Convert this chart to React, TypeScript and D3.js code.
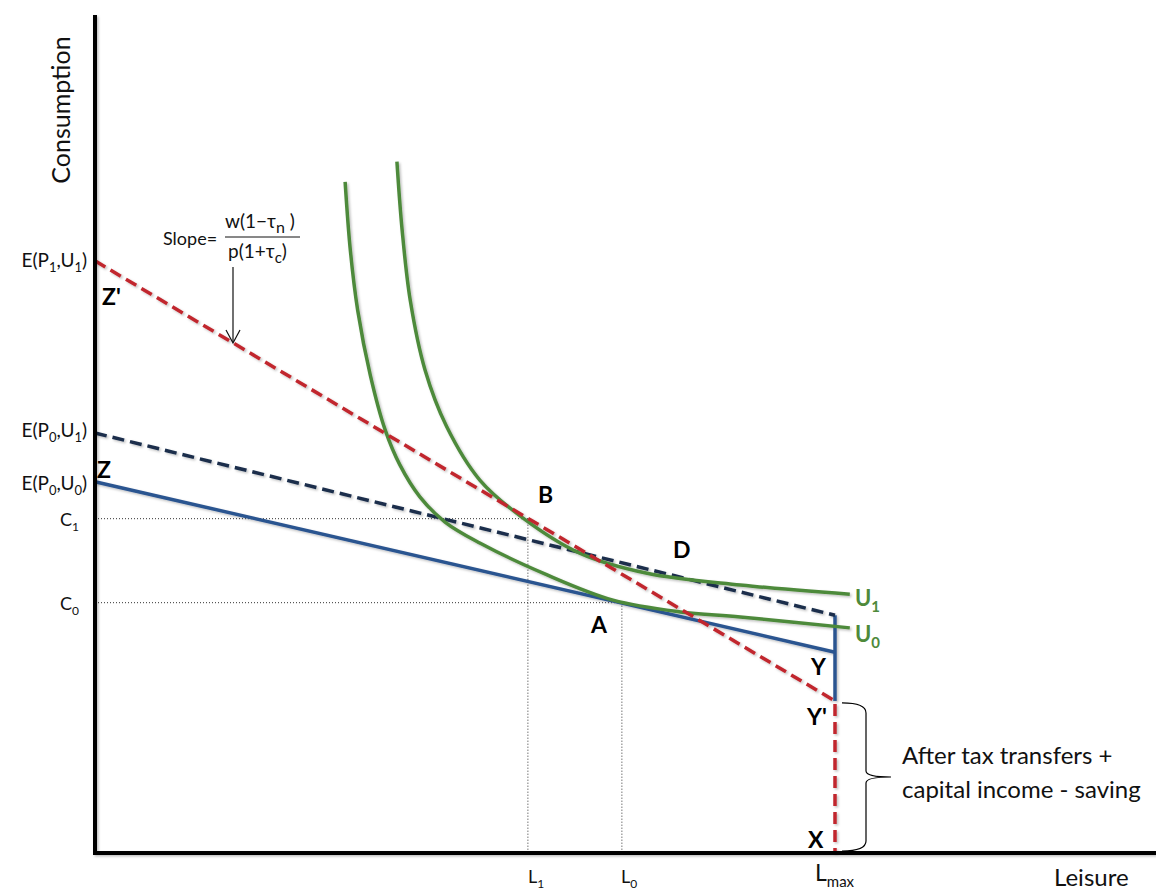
import React from "react";
import * as d3 from "d3";

const W = 1156;
const H = 890;

// Leisure / consumption reference values
const L1 = 58.5;
const L0 = 71.2;
const LMAX = 100;
const C1 = 39.8;
const C0 = 29.8;

// Vertical axis intercepts
const E_P1_U1 = 70.5;
const E_P0_U1 = 50.0;
const E_P0_U0 = 44.2;
const Y_VAL = 23.9;
const YPRIME_VAL = 18.1;
const DASHED_BLUE_END = 28.3;

// Budget lines [leisure, consumption]
const redBudget: [number, number][] = [
  [0, E_P1_U1],
  [LMAX, YPRIME_VAL],
  [LMAX, 0],
];
const blueBudget: [number, number][] = [
  [0, E_P0_U0],
  [LMAX, Y_VAL],
];
const blueDashedBudget: [number, number][] = [
  [0, E_P0_U1],
  [LMAX, DASHED_BLUE_END],
];
const blueVertical: [number, number][] = [
  [LMAX, DASHED_BLUE_END],
  [LMAX, YPRIME_VAL],
];

// Indifference curves
const U1curve: [number, number][] = [
  [40.8, 82.3],
  [41.5, 74.2],
  [42.6, 65.8],
  [44.6, 57.5],
  [47.5, 50.8],
  [52.0, 44.4],
  [57.8, 39.9],
  [65.5, 35.7],
  [74.6, 33.3],
  [87.2, 31.9],
  [102.0, 30.8],
];
const U0curve: [number, number][] = [
  [33.8, 79.9],
  [34.5, 71.8],
  [35.5, 64.6],
  [37.2, 56.9],
  [39.2, 50.4],
  [41.2, 46.2],
  [43.9, 42.4],
  [47.3, 39.4],
  [52.0, 36.9],
  [61.1, 33.1],
  [70.0, 30.1],
  [79.1, 28.7],
  [87.2, 28.1],
  [102.0, 26.8],
];

const FONT = "Lato, 'Open Sans', sans-serif";
const GREEN = "#4E8A3B";
const RED = "#C1272D";
const BLUE = "#2B5490";
const NAVY = "#1A2E4C";

function SubText({
  x,
  y,
  parts,
  size = 16,
  subSize,
  anchor = "start",
  fill = "#111",
  weight = "normal",
}: {
  x: number;
  y: number;
  parts: [string, string][];
  size?: number;
  subSize?: number;
  anchor?: string;
  fill?: string;
  weight?: string;
}) {
  const ss = subSize ?? Math.round(size * 0.7);
  const shift = Math.round(size * 0.28);
  const nodes: React.ReactNode[] = [];
  let down = false;
  parts.forEach(([main, sub], i) => {
    if (main) {
      nodes.push(
        <tspan key={"m" + i} dy={down ? -shift : 0} fontSize={size}>
          {main}
        </tspan>
      );
      down = false;
    }
    if (sub) {
      nodes.push(
        <tspan key={"s" + i} dy={down ? 0 : shift} fontSize={ss}>
          {sub}
        </tspan>
      );
      down = true;
    }
  });
  return (
    <text
      x={x}
      y={y}
      textAnchor={anchor as any}
      fill={fill}
      fontWeight={weight}
      fontFamily={FONT}
    >
      {nodes}
    </text>
  );
}

export default function App() {
  const x = d3.scaleLinear().domain([0, 100]).range([95, 835]);
  const y = d3.scaleLinear().domain([0, 100]).range([853, 13]);

  const line = d3
    .line<[number, number]>()
    .x((d) => x(d[0]))
    .y((d) => y(d[1]));
  const curve = d3
    .line<[number, number]>()
    .x((d) => x(d[0]))
    .y((d) => y(d[1]))
    .curve(d3.curveCatmullRom.alpha(0.5));

  const arrowX = 233;
  const braceMid = (y(YPRIME_VAL) + y(0)) / 2;
  const bx = x(LMAX);

  return (
    <svg
      width={W}
      height={H}
      style={{ position: "absolute", left: 0, top: 0, background: "#fff" }}
    >
      <defs>
        <filter id="sh" x="-5%" y="-5%" width="110%" height="110%">
          <feDropShadow
            dx="1.5"
            dy="1.5"
            stdDeviation="1"
            floodColor="#000"
            floodOpacity="0.25"
          />
        </filter>
      </defs>

      {/* dotted guide lines */}
      <g stroke="#333" strokeWidth={1} strokeDasharray="1,2" fill="none">
        <line x1={x(0)} y1={y(C1)} x2={x(L1)} y2={y(C1)} />
        <line x1={x(L1)} y1={y(C1)} x2={x(L1)} y2={y(0)} />
        <line x1={x(0)} y1={y(C0)} x2={x(L0)} y2={y(C0)} />
        <line x1={x(L0)} y1={y(C0)} x2={x(L0)} y2={y(0)} />
      </g>

      {/* budget lines and indifference curves */}
      <g fill="none" filter="url(#sh)">
        <path d={line(blueBudget)!} stroke={BLUE} strokeWidth={3.5} />
        <path d={line(blueVertical)!} stroke={BLUE} strokeWidth={3.5} />
        <path
          d={line(blueDashedBudget)!}
          stroke={NAVY}
          strokeWidth={3.5}
          strokeDasharray="12,6"
        />
        <path d={curve(U0curve)!} stroke={GREEN} strokeWidth={3.5} />
        <path d={curve(U1curve)!} stroke={GREEN} strokeWidth={3.5} />
        <path
          d={line(redBudget)!}
          stroke={RED}
          strokeWidth={3.5}
          strokeDasharray="12,6"
        />
      </g>

      {/* axes */}
      <g stroke="#000" strokeWidth={4} filter="url(#sh)">
        <line x1={x(0)} y1={15} x2={x(0)} y2={y(0) + 2} />
        <line x1={x(0) - 2} y1={y(0)} x2={W} y2={y(0)} />
      </g>

      {/* axis titles */}
      <text
        transform={`translate(70,110) rotate(-90)`}
        textAnchor="middle"
        fontSize={25}
        fontFamily={FONT}
        fill="#111"
      >
        Consumption
      </text>
      <text x={1054} y={886} fontSize={24} fontFamily={FONT} fill="#111">
        Leisure
      </text>

      {/* y labels */}
      <SubText x={87} y={y(E_P1_U1) + 6} anchor="end" size={19} subSize={13} parts={[["E(P", "1"], [",U", "1"], [")", ""]]} />
      <SubText x={87} y={y(E_P0_U1) + 4} anchor="end" size={19} subSize={13} parts={[["E(P", "0"], [",U", "1"], [")", ""]]} />
      <SubText x={87} y={y(E_P0_U0) + 8} anchor="end" size={19} subSize={13} parts={[["E(P", "0"], [",U", "0"], [")", ""]]} />
      <SubText x={60} y={y(C1) + 7} parts={[["C", "1"]]} size={18} subSize={12} />
      <SubText x={60} y={y(C0) + 7} parts={[["C", "0"]]} size={18} subSize={12} />

      {/* x labels */}
      <SubText x={x(L1)} y={883} parts={[["L", "1"]]} size={18} subSize={12} />
      <SubText x={x(L0) - 1} y={883} parts={[["L", "0"]]} size={18} subSize={12} />
      <SubText x={x(LMAX) - 20} y={881} parts={[["L", "max"]]} size={23} subSize={15} />

      {/* point labels */}
      <g fontFamily={FONT} fontWeight="bold" fontSize={23} fill="#000">
        <text x={x(0) + 7} y={y(E_P1_U1) + 44}>Z'</text>
        <text x={x(0) + 2} y={y(E_P0_U0) - 4}>Z</text>
        <text x={x(L1) + 10} y={y(C1) - 16}>B</text>
        <text x={673} y={558}>D</text>
        <text x={x(L0) - 31} y={y(C0) + 30}>A</text>
        <text x={x(LMAX) - 24} y={y(Y_VAL) + 23}>Y</text>
        <text x={x(LMAX) - 28} y={y(YPRIME_VAL) + 24}>Y'</text>
        <text x={x(LMAX) - 27} y={y(0) - 5}>X</text>
      </g>
      <SubText x={855} y={y(U1curve[U1curve.length - 1][1]) + 12} parts={[["U", "1"]]} size={22} subSize={15} fill={GREEN} weight="bold" />
      <SubText x={855} y={y(U0curve[U0curve.length - 1][1]) + 14} parts={[["U", "0"]]} size={22} subSize={15} fill={GREEN} weight="bold" />

      {/* brace */}
      <path
        d={`M ${bx + 7} ${y(YPRIME_VAL) + 2}
            Q ${bx + 31} ${y(YPRIME_VAL) + 2} ${bx + 31} ${y(YPRIME_VAL) + 12}
            L ${bx + 31} ${braceMid - 6}
            Q ${bx + 31} ${braceMid} ${bx + 56} ${braceMid}
            Q ${bx + 31} ${braceMid} ${bx + 31} ${braceMid + 6}
            L ${bx + 31} ${y(0) - 12}
            Q ${bx + 31} ${y(0) - 2} ${bx + 7} ${y(0) - 2}`}
        fill="none"
        stroke="#000"
        strokeWidth={1.2}
      />
      <g fontFamily={FONT} fontSize={24} fill="#111">
        <text x={902} y={764}>After tax transfers +</text>
        <text x={902} y={798}>capital income - saving</text>
      </g>

      {/* slope annotation */}
      <text x={163} y={245} fontFamily={FONT} fontSize={18} fill="#111">
        Slope=
      </text>
      <SubText x={225} y={228} parts={[["w(1\u2212\u03c4", "n"], [" )", ""]]} size={19} subSize={16} />
      <line x1={225} y1={237} x2={300} y2={237} stroke="#111" strokeWidth={1} />
      <SubText x={228} y={258} parts={[["p(1+\u03c4", "c"], [")", ""]]} size={19} subSize={15} />
      <line x1={arrowX} y1={267} x2={arrowX} y2={342} stroke="#111" strokeWidth={1.2} />
      <path
        d={`M ${arrowX - 7} ${330} L ${arrowX} ${343} L ${arrowX + 7} ${330}`}
        fill="none"
        stroke="#111"
        strokeWidth={1.2}
      />
    </svg>
  );
}
